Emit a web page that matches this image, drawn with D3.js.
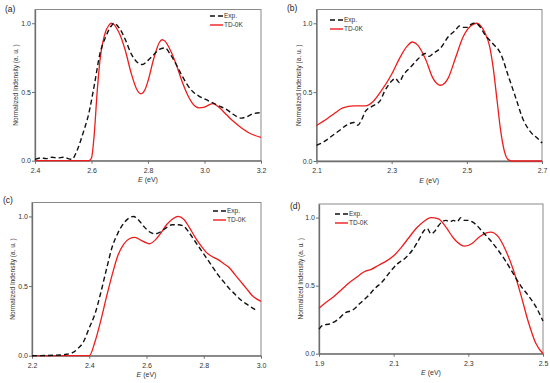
<!DOCTYPE html>
<html>
<head>
<meta charset="utf-8">
<script src="https://cdn.jsdelivr.net/npm/d3@7"></script>
<style>
  body { margin: 0; background: #fff; }
  text { font-family: "Liberation Sans", Arial, sans-serif; }
</style>
</head>
<body>
<div id="container"></div>
<script>
// panel (a)
let aTdE = [2.40, 2.59, 2.60, 2.61, 2.62, 2.63, 2.64, 2.65, 2.66, 2.67, 2.68, 2.69, 2.70, 2.72, 2.74, 2.76, 2.775, 2.79, 2.80, 2.82, 2.84, 2.85, 2.86, 2.88, 2.90, 2.92, 2.94, 2.96, 2.98, 3.00, 3.02, 3.03, 3.05, 3.08, 3.10, 3.13, 3.16, 3.20];
let aTd  = [0, 0, 0.02, 0.2, 0.5, 0.73, 0.86, 0.94, 0.98, 1.0, 0.99, 0.96, 0.92, 0.8, 0.64, 0.52, 0.487, 0.52, 0.58, 0.74, 0.86, 0.88, 0.87, 0.8, 0.7, 0.58, 0.48, 0.41, 0.385, 0.39, 0.41, 0.415, 0.39, 0.33, 0.29, 0.24, 0.2, 0.17];
let aExpE = [2.40, 2.42, 2.44, 2.46, 2.48, 2.50, 2.53, 2.55, 2.57, 2.59, 2.61, 2.63, 2.65, 2.67, 2.68, 2.70, 2.72, 2.74, 2.76, 2.78, 2.80, 2.82, 2.84, 2.86, 2.88, 2.90, 2.92, 2.94, 2.96, 2.98, 3.00, 3.02, 3.05, 3.08, 3.10, 3.13, 3.15, 3.17, 3.20];
let aExp  = [0.01, 0.02, 0.015, 0.025, 0.02, 0.025, 0.01, 0.08, 0.2, 0.34, 0.55, 0.78, 0.9, 0.98, 1.0, 0.96, 0.88, 0.78, 0.72, 0.7, 0.73, 0.77, 0.81, 0.82, 0.77, 0.7, 0.62, 0.55, 0.5, 0.47, 0.45, 0.43, 0.4, 0.37, 0.34, 0.31, 0.32, 0.34, 0.35];

// panel (b)
let bTdE = [2.10, 2.13, 2.15, 2.17, 2.20, 2.23, 2.25, 2.27, 2.30, 2.32, 2.34, 2.355, 2.37, 2.39, 2.41, 2.43, 2.45, 2.47, 2.49, 2.51, 2.525, 2.54, 2.55, 2.56, 2.57, 2.58, 2.59, 2.60, 2.61, 2.62, 2.70];
let bTd  = [0.257, 0.31, 0.35, 0.386, 0.4, 0.4, 0.43, 0.5, 0.63, 0.74, 0.83, 0.864, 0.84, 0.74, 0.6, 0.55, 0.6, 0.75, 0.9, 0.98, 1.0, 0.97, 0.92, 0.84, 0.68, 0.45, 0.22, 0.07, 0.01, 0, 0];
let bExpE = [2.10, 2.12, 2.14, 2.16, 2.18, 2.20, 2.21, 2.22, 2.23, 2.25, 2.27, 2.28, 2.30, 2.31, 2.32, 2.33, 2.35, 2.37, 2.39, 2.40, 2.41, 2.43, 2.45, 2.47, 2.48, 2.49, 2.50, 2.51, 2.52, 2.53, 2.55, 2.57, 2.59, 2.61, 2.63, 2.65, 2.67, 2.69, 2.70];
let bExp  = [0.114, 0.14, 0.18, 0.22, 0.26, 0.28, 0.26, 0.3, 0.36, 0.4, 0.44, 0.5, 0.58, 0.6, 0.57, 0.62, 0.68, 0.74, 0.78, 0.76, 0.78, 0.82, 0.9, 0.95, 0.98, 0.97, 0.97, 0.99, 1.0, 0.99, 0.91, 0.85, 0.78, 0.62, 0.46, 0.3, 0.21, 0.16, 0.13];

// panel (c)
let cTdE = [2.20, 2.40, 2.42, 2.44, 2.46, 2.48, 2.50, 2.52, 2.54, 2.56, 2.58, 2.60, 2.61, 2.63, 2.65, 2.67, 2.69, 2.71, 2.73, 2.75, 2.77, 2.79, 2.81, 2.83, 2.85, 2.87, 2.89, 2.91, 2.93, 2.95, 2.97, 3.00];
let cTd  = [0, 0, 0.1, 0.25, 0.42, 0.58, 0.72, 0.8, 0.84, 0.85, 0.83, 0.81, 0.804, 0.83, 0.88, 0.94, 0.98, 1.0, 0.98, 0.92, 0.85, 0.79, 0.74, 0.71, 0.69, 0.66, 0.63, 0.58, 0.53, 0.48, 0.43, 0.39];
let cExpE = [2.20, 2.30, 2.32, 2.34, 2.36, 2.38, 2.40, 2.42, 2.44, 2.46, 2.48, 2.50, 2.52, 2.54, 2.555, 2.57, 2.59, 2.61, 2.63, 2.65, 2.67, 2.69, 2.71, 2.73, 2.75, 2.77, 2.79, 2.81, 2.83, 2.85, 2.87, 2.89, 2.91, 2.93, 2.95, 2.98];
let cExp  = [0, 0.005, 0.01, 0.02, 0.05, 0.1, 0.2, 0.3, 0.45, 0.62, 0.78, 0.88, 0.95, 0.99, 1.0, 0.98, 0.93, 0.89, 0.875, 0.89, 0.92, 0.94, 0.94, 0.93, 0.88, 0.82, 0.76, 0.7, 0.64, 0.58, 0.53, 0.48, 0.44, 0.4, 0.37, 0.33];

// panel (d)
let dTdE = [1.90, 1.92, 1.94, 1.96, 1.98, 2.00, 2.02, 2.04, 2.06, 2.08, 2.10, 2.12, 2.14, 2.16, 2.18, 2.20, 2.22, 2.24, 2.26, 2.28, 2.29, 2.31, 2.33, 2.35, 2.36, 2.38, 2.40, 2.42, 2.44, 2.46, 2.48, 2.50];
let dTd  = [0.334, 0.38, 0.42, 0.47, 0.52, 0.56, 0.6, 0.62, 0.65, 0.68, 0.72, 0.78, 0.85, 0.92, 0.97, 1.0, 0.99, 0.93, 0.85, 0.8, 0.79, 0.81, 0.86, 0.89, 0.894, 0.86, 0.76, 0.62, 0.44, 0.24, 0.08, 0];
let dExpE = [1.90, 1.91, 1.93, 1.95, 1.97, 1.99, 2.01, 2.03, 2.05, 2.07, 2.09, 2.11, 2.13, 2.15, 2.17, 2.18, 2.19, 2.20, 2.21, 2.22, 2.23, 2.24, 2.25, 2.26, 2.27, 2.28, 2.29, 2.30, 2.31, 2.32, 2.34, 2.36, 2.38, 2.40, 2.42, 2.44, 2.46, 2.48, 2.50];
let dExp  = [0.18, 0.21, 0.22, 0.25, 0.3, 0.32, 0.37, 0.42, 0.48, 0.53, 0.6, 0.66, 0.7, 0.76, 0.85, 0.9, 0.92, 0.88, 0.9, 0.94, 0.97, 0.98, 0.97, 0.98, 0.97, 1.0, 0.98, 0.98, 0.97, 0.95, 0.89, 0.83, 0.76, 0.68, 0.59, 0.5, 0.43, 0.35, 0.24];

let yTicks = [0, 0.5, 1.0];

let w = 550;
let h = 383;

let viz = d3.select("#container")
  .append("svg")
  .attr("width", w)
  .attr("height", h)
  .style("background-color", "white");

// box of each panel and where its legend sits
let panels = [
  { tag: "(a)", tagX: 5, tagY: 12, left: 35, right: 261, top: 9.5, bottom: 160.7, ylabX: 15,
    dom: [2.4, 3.2], ticks: [2.4, 2.6, 2.8, 3.0, 3.2], legX: 210, legY: 16,
    td: [aTdE, aTd], exp: [aExpE, aExp] },
  { tag: "(b)", tagX: 287, tagY: 11, left: 316.5, right: 542, top: 9.5, bottom: 161, ylabX: 298,
    dom: [2.1, 2.7], ticks: [2.1, 2.3, 2.5, 2.7], legX: 330, legY: 20,
    td: [bTdE, bTd], exp: [bExpE, bExp] },
  { tag: "(c)", tagX: 3, tagY: 203, left: 32, right: 261, top: 202.5, bottom: 355.7, ylabX: 12.5,
    dom: [2.2, 3.0], ticks: [2.2, 2.4, 2.6, 2.8, 3.0], legX: 213, legY: 211,
    td: [cTdE, cTd], exp: [cExpE, cExp] },
  { tag: "(d)", tagX: 290, tagY: 209, left: 319, right: 543, top: 204, bottom: 353.7, ylabX: 300,
    dom: [1.9, 2.5], ticks: [1.9, 2.1, 2.3, 2.5], legX: 335, legY: 214,
    td: [dTdE, dTd], exp: [dExpE, dExp] }
];

function toPoints(arr) {
  return arr[0].map(function (x, i) { return [x, arr[1][i]]; });
}

panels.forEach(function (p) {
  let xScale = d3.scaleLinear().domain(p.dom).range([p.left, p.right]);
  let yScale = d3.scaleLinear().domain([0, 1.1]).range([p.bottom, p.top]);
  let g = viz.append("g");

  // frame
  g.append("rect")
    .attr("x", p.left).attr("y", p.top)
    .attr("width", p.right - p.left).attr("height", p.bottom - p.top)
    .attr("fill", "none").attr("stroke", "#8a8a8a").attr("stroke-width", 1);

  let xAxis = g.append("g")
    .attr("transform", "translate(0," + p.bottom + ")")
    .call(d3.axisBottom(xScale).tickValues(p.ticks).tickFormat(d3.format(".1f")).tickSize(3).tickSizeOuter(0));
  let yAxis = g.append("g")
    .attr("transform", "translate(" + p.left + ",0)")
    .call(d3.axisLeft(yScale).tickValues(yTicks).tickFormat(d3.format(".1f")).tickSize(3).tickSizeOuter(0));
  [xAxis, yAxis].forEach(function (ax) {
    ax.select(".domain").attr("stroke", "#6e6e6e").attr("stroke-width", 1.3);
    ax.selectAll(".tick line").attr("stroke", "#6e6e6e");
    ax.selectAll(".tick text").attr("fill", "#333").style("font-size", "7px")
      .style("font-family", "Liberation Sans, Arial, sans-serif");
  });
  xAxis.selectAll(".tick text").attr("dy", "0.9em");
  yAxis.selectAll(".tick text").attr("x", -4);

  let line = d3.line()
    .x(function (d) { return xScale(d[0]); })
    .y(function (d) { return yScale(d[1]); })
    .curve(d3.curveMonotoneX);

  g.append("path").datum(toPoints(p.td))
    .attr("d", line).attr("fill", "none")
    .attr("stroke", "#ee1c1c").attr("stroke-width", 1.3);
  g.append("path").datum(toPoints(p.exp))
    .attr("d", line).attr("fill", "none")
    .attr("stroke", "#111").attr("stroke-width", 1.4)
    .attr("stroke-dasharray", "5,3");

  // labels
  g.append("text").attr("x", p.tagX).attr("y", p.tagY)
    .style("font-size", "8.5px").attr("fill", "#222").text(p.tag);

  let xl = g.append("text")
    .attr("x", (p.left + p.right) / 2).attr("y", p.bottom + 21.5)
    .attr("text-anchor", "middle").style("font-size", "7px").attr("fill", "#333");
  xl.append("tspan").style("font-style", "italic").text("E");
  xl.append("tspan").text(" (eV)");

  g.append("text")
    .attr("transform", "translate(" + (p.ylabX + 2.5) + "," + ((p.top + p.bottom) / 2) + ") rotate(-90)")
    .attr("text-anchor", "middle").style("font-size", "6.5px").attr("fill", "#333")
    .text("Normalized Indensity (a. u. )");

  // legend
  let keys = [["Exp.", "#111", "5,3"], ["TD-0K", "#ee1c1c", null]];
  keys.forEach(function (k, i) {
    let ly = p.legY + i * 9;
    g.append("line")
      .attr("x1", p.legX).attr("x2", p.legX + 13).attr("y1", ly).attr("y2", ly)
      .attr("stroke", k[1]).attr("stroke-width", 1.4)
      .attr("stroke-dasharray", k[2]);
    g.append("text").attr("x", p.legX + 14).attr("y", ly)
      .attr("dy", "0.35em").style("font-size", "6.5px").attr("fill", "#333")
      .text(k[0]);
  });
});
</script>
</body>
</html>
